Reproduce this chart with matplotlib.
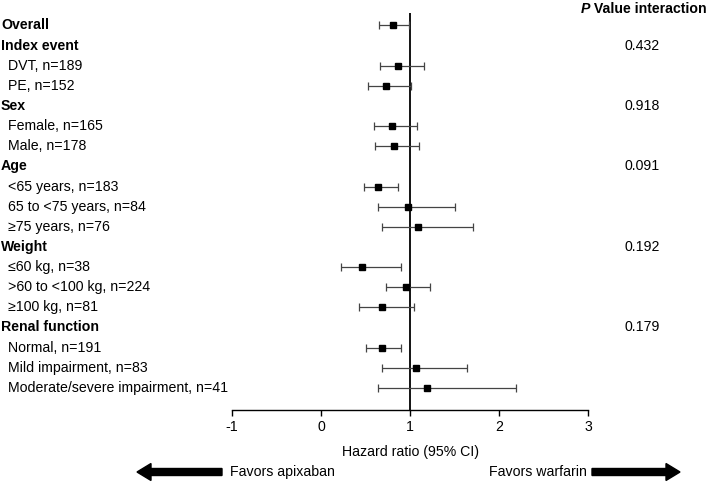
import matplotlib.pyplot as plt
import matplotlib.transforms as mtransforms
from matplotlib.patches import FancyArrow

plt.rcParams['font.family'] = ['Liberation Sans', 'DejaVu Sans']

# rows of the forest plot, top to bottom
labels = ['Overall', 'Index event', 'DVT, n=189', 'PE, n=152', 'Sex',
          'Female, n=165', 'Male, n=178', 'Age', '<65 years, n=183',
          '65 to <75 years, n=84', '\u226575 years, n=76', 'Weight',
          '\u226460 kg, n=38', '>60 to <100 kg, n=224', '\u2265100 kg, n=81',
          'Renal function', 'Normal, n=191', 'Mild impairment, n=83',
          'Moderate/severe impairment, n=41']
is_header = [True, True, False, False, True, False, False, True, False, False,
             False, True, False, False, False, True, False, False, False]

# hazard ratio and 95% CI (None for header rows)
hr = [0.81, None, 0.87, 0.73, None, 0.80, 0.82, None, 0.64, 0.98, 1.09,
      None, 0.46, 0.95, 0.68, None, 0.68, 1.07, 1.19]
ci_low = [0.65, None, 0.66, 0.53, None, 0.59, 0.61, None, 0.48, 0.64, 0.69,
          None, 0.23, 0.73, 0.43, None, 0.51, 0.69, 0.64]
ci_high = [0.99, None, 1.16, 1.01, None, 1.08, 1.10, None, 0.87, 1.51, 1.71,
           None, 0.90, 1.23, 1.05, None, 0.90, 1.64, 2.19]

p_rows = [1, 4, 7, 11, 15]
p_values = ['0.432', '0.918', '0.091', '0.192', '0.179']

W, H = 709, 482
FS = 10.2
fig = plt.figure(figsize=(W / 100, H / 100), dpi=100)
ax = fig.add_axes([232 / W, (H - 410) / H, 356 / W, 397 / H])

n = len(labels)
ax.set_xlim(-1, 3)
ax.set_ylim(19.1, -0.62)

for i in range(n):
    if hr[i] is None:
        continue
    ax.errorbar(hr[i], i, xerr=[[hr[i] - ci_low[i]], [ci_high[i] - hr[i]]],
                fmt='none', ecolor='#444444', elinewidth=0.9, capsize=3,
                capthick=0.9, zorder=2)
    ax.plot(hr[i], i, marker='s', color='black', markersize=5, zorder=3)

ax.axvline(1, color='black', lw=1.3, zorder=1)

for s in ['top', 'right', 'left']:
    ax.spines[s].set_visible(False)
ax.spines['bottom'].set_linewidth(1.0)
ax.set_yticks([])
ax.set_xticks([-1, 0, 1, 2, 3])
ax.set_xticklabels(['-1', '0', '1', '2', '3'])
ax.tick_params(axis='x', length=4, width=1.0, labelsize=FS, pad=3)
ax.set_xlabel('Hazard ratio (95% CI)', fontsize=FS, labelpad=8)

# row labels at left of figure
trans = mtransforms.blended_transform_factory(fig.transFigure, ax.transData)
for i, lab in enumerate(labels):
    if is_header[i]:
        ax.text(1 / W, i, lab, transform=trans, fontsize=FS,
                fontweight='bold', va='center', ha='left', clip_on=False)
    else:
        ax.text(8 / W, i, lab, transform=trans, fontsize=FS,
                va='center', ha='left', clip_on=False)

for r, p in zip(p_rows, p_values):
    ax.text(642 / W, r, p, transform=trans, fontsize=FS, va='center',
            ha='center', clip_on=False)

# P value header
hdr = fig.text(707 / W, 1 - 9 / H, ' Value interaction', fontsize=FS,
               fontweight='bold', ha='right', va='center')
fig.canvas.draw()
bb = hdr.get_window_extent(fig.canvas.get_renderer())
fig.text(bb.x0 / W, 1 - 9 / H, 'P', fontsize=FS, fontweight='bold',
         fontstyle='italic', ha='right', va='center')

# favour arrows
ya = (H - 472) / H
fig.patches.append(FancyArrow(222 / W, ya, -85 / W, 0, width=7 / H,
                              head_width=17 / H, head_length=14 / W,
                              length_includes_head=True, color='black',
                              transform=fig.transFigure, figure=fig))
fig.patches.append(FancyArrow(592 / W, ya, 88 / W, 0, width=7 / H,
                              head_width=17 / H, head_length=14 / W,
                              length_includes_head=True, color='black',
                              transform=fig.transFigure, figure=fig))
fig.text(230 / W, ya, 'Favors apixaban', fontsize=FS, ha='left', va='center')
fig.text(587 / W, ya, 'Favors warfarin', fontsize=FS, ha='right', va='center')

fig.savefig('out.png', dpi=100)
